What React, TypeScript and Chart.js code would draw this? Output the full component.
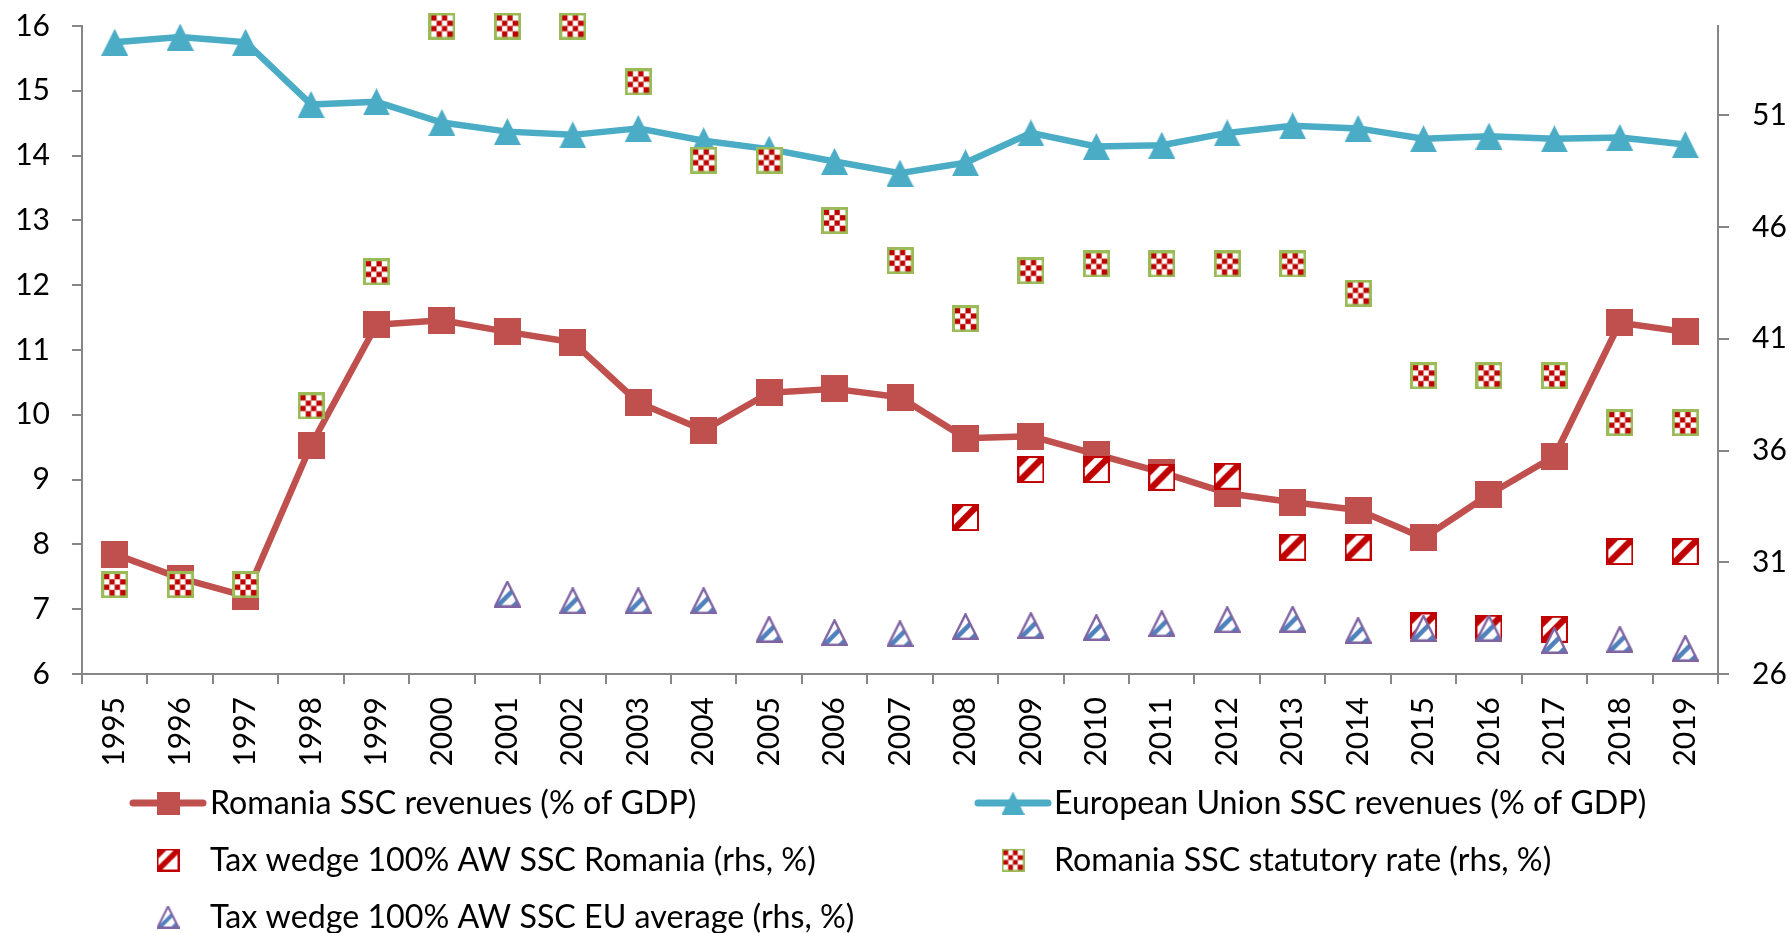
import React, { useEffect, useRef } from 'react';
import { Chart, registerables } from 'chart.js';

Chart.register(...registerables);

// ---------- data ----------
const YEARS = [
  '1995', '1996', '1997', '1998', '1999', '2000', '2001', '2002', '2003', '2004',
  '2005', '2006', '2007', '2008', '2009', '2010', '2011', '2012', '2013', '2014',
  '2015', '2016', '2017', '2018', '2019',
];

const RO_SSC_REVENUES = [
  7.85, 7.48, 7.2, 9.53, 11.39, 11.46, 11.28, 11.12, 10.19, 9.76,
  10.34, 10.4, 10.27, 9.64, 9.67, 9.39, 9.11, 8.79, 8.65, 8.53,
  8.1, 8.77, 9.36, 11.42, 11.28,
];

const EU_SSC_REVENUES = [
  15.75, 15.83, 15.75, 14.79, 14.83, 14.51, 14.37, 14.32, 14.42, 14.23,
  14.1, 13.91, 13.73, 13.89, 14.35, 14.14, 14.16, 14.35, 14.46, 14.42,
  14.26, 14.3, 14.26, 14.28, 14.17,
];

const RO_TAX_WEDGE = [
  null, null, null, null, null, null, null, null, null, null,
  null, null, null, 33.0, 35.15, 35.15, 34.8, 34.85, 31.68, 31.68,
  28.15, 28.05, 28.0, 31.48, 31.48,
];

const RO_STATUTORY_RATE = [
  30, 30, 30, 38, 44, 55, 55, 55, 52.5, 49,
  49, 46.3, 44.5, 41.9, 44.05, 44.35, 44.35, 44.35, 44.35, 43.05,
  39.35, 39.35, 39.35, 37.25, 37.25,
];

const EU_TAX_WEDGE = [
  null, null, null, null, null, null, 29.58, 29.28, 29.28, 29.28,
  28.0, 27.85, 27.8, 28.12, 28.17, 28.08, 28.25, 28.43, 28.45, 27.95,
  28.05, 28.05, 27.5, 27.55, 27.15,
];

const LEFT_TICKS = [6, 7, 8, 9, 10, 11, 12, 13, 14, 15, 16];
const RIGHT_TICKS = [26, 31, 36, 41, 46, 51];

const LABEL_RO_REV = 'Romania SSC revenues (% of GDP)';
const LABEL_EU_REV = 'European Union SSC revenues (% of GDP)';
const LABEL_RO_WEDGE = 'Tax wedge 100% AW SSC Romania (rhs, %)';
const LABEL_RO_STAT = 'Romania SSC statutory rate (rhs, %)';
const LABEL_EU_WEDGE = 'Tax wedge 100% AW SSC EU average (rhs, %)';

// ---------- styles ----------
const RED_LINE = '#C0504D';
const BLUE_LINE = '#4BACC6';
const DARK_RED = '#C00000';
const GREEN = '#9BBB59';
const PURPLE = '#8064A2';
const STEEL = '#4F81BD';
const AXIS = '#868686';
const FONT_FAMILY = 'Lato, "Open Sans", sans-serif';

function mk(size: number): [HTMLCanvasElement, CanvasRenderingContext2D] {
  const c = document.createElement('canvas');
  c.width = size;
  c.height = size;
  return [c, c.getContext('2d') as CanvasRenderingContext2D];
}

function squareMarker(size: number, color: string) {
  const [c, ctx] = mk(size);
  ctx.fillStyle = color;
  ctx.fillRect(0, 0, size, size);
  return c;
}

function trianglePath(ctx: CanvasRenderingContext2D, size: number, inset: number) {
  ctx.beginPath();
  ctx.moveTo(size / 2, inset);
  ctx.lineTo(size - inset, size - inset);
  ctx.lineTo(inset, size - inset);
  ctx.closePath();
}

function triangleMarker(size: number, color: string) {
  const [c, ctx] = mk(size);
  ctx.fillStyle = color;
  trianglePath(ctx, size, 0);
  ctx.fill();
  return c;
}

function checkerMarker(size: number) {
  const [c, ctx] = mk(size);
  const b = Math.max(2, Math.round(size * 0.1));
  ctx.fillStyle = GREEN;
  ctx.fillRect(0, 0, size, size);
  const inner = size - 2 * b;
  const n = 4;
  const cell = inner / n;
  for (let r = 0; r < n; r++) {
    for (let k = 0; k < n; k++) {
      ctx.fillStyle = (r + k) % 2 === 0 ? DARK_RED : '#FFFFFF';
      ctx.fillRect(b + k * cell, b + r * cell, cell + 0.3, cell + 0.3);
    }
  }
  return c;
}

function stripes(ctx: CanvasRenderingContext2D, offsets: number[], width: number, color: string) {
  ctx.strokeStyle = color;
  ctx.lineWidth = width;
  offsets.forEach((cst) => {
    ctx.beginPath();
    ctx.moveTo(cst + 40, -40);
    ctx.lineTo(-40, cst + 40);
    ctx.stroke();
  });
}

function wedgeSquareMarker(size: number) {
  const [c, ctx] = mk(size);
  const b = Math.max(2, Math.round(size * 0.09));
  ctx.fillStyle = DARK_RED;
  ctx.fillRect(0, 0, size, size);
  ctx.fillStyle = '#FFFFFF';
  ctx.fillRect(b, b, size - 2 * b, size - 2 * b);
  ctx.save();
  ctx.beginPath();
  ctx.rect(b, b, size - 2 * b, size - 2 * b);
  ctx.clip();
  stripes(ctx, [size, size * 0.34], size * 0.24, DARK_RED);
  ctx.restore();
  return c;
}

function wedgeTriangleMarker(size: number) {
  const [c, ctx] = mk(size);
  const lw = Math.max(2, size * 0.09);
  ctx.fillStyle = '#FFFFFF';
  trianglePath(ctx, size, lw / 2);
  ctx.fill();
  ctx.save();
  trianglePath(ctx, size, lw / 2);
  ctx.clip();
  const p = size * 0.6;
  stripes(ctx, [size + 2, size + 2 + p], size * 0.17, STEEL);
  ctx.restore();
  ctx.strokeStyle = PURPLE;
  ctx.lineWidth = lw;
  ctx.lineJoin = 'miter';
  trianglePath(ctx, size, lw / 2);
  ctx.stroke();
  return c;
}

export default function App() {
  const canvasRef = useRef<HTMLCanvasElement | null>(null);

  useEffect(() => {
    document.body.style.margin = '0';
    const canvas = canvasRef.current;
    if (!canvas) return;

    const M = 27;
    const L = 23;
    const markers = {
      roRev: squareMarker(M, RED_LINE),
      euRev: triangleMarker(M, BLUE_LINE),
      roStat: checkerMarker(M),
      roWedge: wedgeSquareMarker(M),
      euWedge: wedgeTriangleMarker(M),
    };
    const legendMarkers = {
      roRev: squareMarker(L, RED_LINE),
      euRev: triangleMarker(L, BLUE_LINE),
      roStat: checkerMarker(L),
      roWedge: wedgeSquareMarker(L),
      euWedge: wedgeTriangleMarker(L),
    };

    const tickFont = { family: FONT_FAMILY, size: 30 };

    const legendItems = [
      { text: LABEL_RO_REV, col: 0, row: 0, line: RED_LINE, marker: legendMarkers.roRev },
      { text: LABEL_EU_REV, col: 1, row: 0, line: BLUE_LINE, marker: legendMarkers.euRev },
      { text: LABEL_RO_WEDGE, col: 0, row: 1, line: null, marker: legendMarkers.roWedge },
      { text: LABEL_RO_STAT, col: 1, row: 1, line: null, marker: legendMarkers.roStat },
      { text: LABEL_EU_WEDGE, col: 0, row: 2, line: null, marker: legendMarkers.euWedge },
    ];

    const legendPlugin = {
      id: 'customLegend',
      afterDraw(chart: any) {
        const ctx: CanvasRenderingContext2D = chart.ctx;
        const colMarkerX = [168, 1013];
        const colTextX = [210, 1054];
        const rowY = [803, 860, 917];
        ctx.save();
        legendItems.forEach((it) => {
          const cx = colMarkerX[it.col];
          const cy = rowY[it.row];
          if (it.line) {
            ctx.strokeStyle = it.line;
            ctx.lineWidth = 7;
            ctx.lineCap = 'round';
            ctx.beginPath();
            ctx.moveTo(cx - 35, cy);
            ctx.lineTo(cx + 35, cy);
            ctx.stroke();
          }
          ctx.drawImage(it.marker, cx - it.marker.width / 2, cy - it.marker.height / 2);
          ctx.fillStyle = '#000000';
          ctx.font = `32.2px ${FONT_FAMILY}`;
          ctx.textBaseline = 'middle';
          ctx.textAlign = 'left';
          ctx.fillText(it.text, colTextX[it.col], cy + 1);
        });
        ctx.restore();
      },
    };

    const chart = new Chart(canvas, {
      type: 'line',
      data: {
        labels: YEARS,
        datasets: [
          {
            label: LABEL_RO_REV,
            data: RO_SSC_REVENUES,
            yAxisID: 'y',
            borderColor: RED_LINE,
            backgroundColor: RED_LINE,
            borderWidth: 6.5,
            borderJoinStyle: 'round',
            borderCapStyle: 'round',
            pointStyle: markers.roRev as any,
            pointRadius: 13,
            order: 5,
            clip: false as any,
          },
          {
            label: LABEL_EU_REV,
            data: EU_SSC_REVENUES,
            yAxisID: 'y',
            borderColor: BLUE_LINE,
            backgroundColor: BLUE_LINE,
            borderWidth: 6.5,
            borderJoinStyle: 'round',
            borderCapStyle: 'round',
            pointStyle: markers.euRev as any,
            pointRadius: 13,
            order: 4,
            clip: false as any,
          },
          {
            label: LABEL_RO_STAT,
            data: RO_STATUTORY_RATE,
            yAxisID: 'y1',
            showLine: false,
            pointStyle: markers.roStat as any,
            pointRadius: 13,
            order: 3,
            clip: false as any,
          },
          {
            label: LABEL_RO_WEDGE,
            data: RO_TAX_WEDGE as any,
            yAxisID: 'y1',
            showLine: false,
            pointStyle: markers.roWedge as any,
            pointRadius: 13,
            order: 2,
            clip: false as any,
          },
          {
            label: LABEL_EU_WEDGE,
            data: EU_TAX_WEDGE as any,
            yAxisID: 'y1',
            showLine: false,
            pointStyle: markers.euWedge as any,
            pointRadius: 13,
            order: 1,
            clip: false as any,
          },
        ],
      },
      options: {
        responsive: false,
        animation: false,
        devicePixelRatio: 1,
        events: [],
        layout: { padding: { top: 26, bottom: 150, left: 0, right: 0 } },
        plugins: {
          legend: { display: false },
          tooltip: { enabled: false },
        },
        scales: {
          x: {
            type: 'category',
            offset: true,
            grid: {
              offset: true,
              drawOnChartArea: false,
              drawTicks: true,
              tickLength: 10,
              color: AXIS,
              lineWidth: 2,
            },
            border: { display: true, color: AXIS, width: 2 },
            ticks: {
              autoSkip: false,
              maxRotation: 90,
              minRotation: 90,
              padding: 13,
              font: tickFont,
              color: '#000000',
            },
            afterFit: (s: any) => {
              s.height = 109;
            },
          },
          y: {
            type: 'linear',
            position: 'left',
            min: 6,
            max: 16,
            afterBuildTicks: (s: any) => {
              s.ticks = LEFT_TICKS.map((v) => ({ value: v }));
            },
            grid: {
              drawOnChartArea: false,
              drawTicks: true,
              tickLength: 10,
              color: AXIS,
              lineWidth: 2,
            },
            border: { display: true, color: AXIS, width: 2 },
            ticks: { padding: 22, font: tickFont, color: '#000000' },
            afterFit: (s: any) => {
              s.width = 82;
              s.paddingTop = 0;
              s.paddingBottom = 0;
            },
          },
          y1: {
            type: 'linear',
            position: 'right',
            min: 26,
            max: 55,
            afterBuildTicks: (s: any) => {
              s.ticks = RIGHT_TICKS.map((v) => ({ value: v }));
            },
            grid: {
              drawOnChartArea: false,
              drawTicks: true,
              tickLength: 11,
              color: AXIS,
              lineWidth: 2,
            },
            border: { display: true, color: AXIS, width: 2 },
            ticks: { padding: 23, font: tickFont, color: '#000000' },
            afterFit: (s: any) => {
              s.width = 73;
              s.paddingTop = 0;
              s.paddingBottom = 0;
            },
          },
        },
      } as any,
      plugins: [legendPlugin],
    });

    return () => {
      chart.destroy();
    };
  }, []);

  return (
    <div style={{ position: 'absolute', left: 0, top: 0, width: 1791, height: 933, background: '#ffffff' }}>
      <canvas ref={canvasRef} width={1791} height={933} style={{ width: 1791, height: 933, display: 'block' }} />
    </div>
  );
}
